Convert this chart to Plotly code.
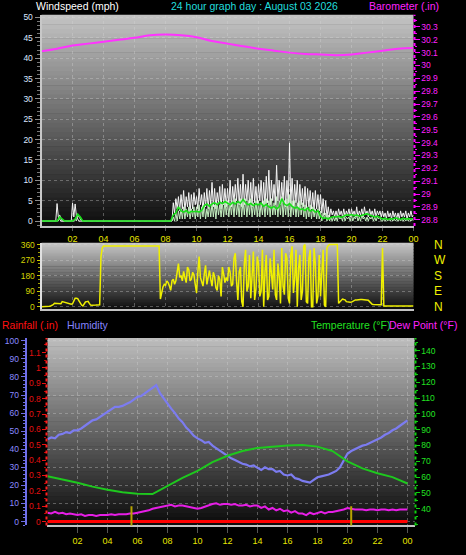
import plotly.graph_objects as go

W, H = 466, 555

# ---------------- data ----------------
hours_5min = [i / 12 for i in range(289)]
hours_10min = [i / 6 for i in range(145)]
hours_15min = [i / 4 for i in range(97)]
hours_1h = list(range(25))

wind_gust = [
    0, 0, 0, 0, 0, 0, 0, 0, 0, 0, 0, 0,
    4.3, 1, 0.5, 0, 0, 0, 0, 0, 0, 0, 0, 0,
    4.4, 1, 4.2, 1.2, 0.5, 0, 0, 0, 0, 0, 0, 0,
    0, 0, 0, 0, 0, 0, 0, 0, 0, 0, 0, 0,
    0, 0, 0, 0, 0, 0, 0, 0, 0, 0, 0, 0,
    0, 0, 0, 0, 0, 0, 0, 0, 0, 0, 0, 0,
    0, 0, 0, 0, 0, 0, 0, 0, 0, 0, 0, 0,
    0, 0, 0, 0, 0, 0, 0, 0, 0, 0, 0, 0,
    0, 0, 0, 0, 0, 0, 4.5, 2, 5.5, 3, 6, 2.5,
    6.5, 3, 7.5, 2.5, 6, 3.5, 7, 2, 6.5, 3, 7, 4,
    6, 3, 8, 4, 6.5, 2.5, 7, 3.5, 8, 3, 7.5, 4,
    9.5, 3.5, 8, 3, 7, 4.5, 8.5, 3, 9, 4, 8, 3.5,
    8, 4, 10, 3.5, 8.5, 4.5, 9, 5, 10.5, 4, 9, 3.5,
    11.5, 4, 9, 5, 10, 4, 9.5, 3.5, 10.5, 4.5, 8.5, 4,
    9, 5, 10, 4, 9.5, 3.5, 11, 4.5, 12.5, 4, 10, 5,
    9, 4, 13.7, 5, 10, 4, 9.5, 4.5, 11, 3.5, 10, 4,
    19.2, 4, 10.5, 3.5, 9, 4.5, 10, 3, 9, 4, 8, 3.5,
    8.5, 3, 8, 3.5, 7.5, 3, 7, 2.5, 7.5, 3, 6.5, 2.5,
    6.5, 2, 5.5, 1.5, 5, 1, 3.5, 1, 3, 1.5, 2.5, 1,
    2.5, 1, 3, 1.5, 2.5, 1, 3, 1, 2.5, 1.5, 3, 1,
    3, 1.5, 2.5, 1, 3.5, 1, 2.5, 1.5, 3, 1, 3.5, 1.5,
    2.5, 1, 3, 1.5, 2.5, 1, 3, 1, 2.5, 1.5, 2.5, 1,
    2.5, 1, 2, 0.5, 2.5, 1, 2, 0.5, 2.5, 1, 2, 0.5,
    2, 0.5, 2.5, 1, 2, 1, 2.5, 0.5, 2, 1, 2.5, 1,
    1.5,
]

wind_speed = [
    0, 0, 0, 0, 0, 0, 0, 0, 0, 0, 0, 0,
    0, 0, 1.5, 0.5, 0, 0, 0, 0, 0, 0, 0, 0,
    0, 0, 0.5, 0, 1.5, 1, 0.5, 0, 0, 0, 0, 0,
    0, 0, 0, 0, 0, 0, 0, 0, 0, 0, 0, 0,
    0, 0, 0, 0, 0, 0, 0, 0, 0, 0, 0, 0,
    0, 0, 0, 0, 0, 0, 0, 0, 0, 0, 0, 0,
    0, 0, 0, 0, 0, 0, 0, 0, 0, 0, 0, 0,
    0, 0, 0, 0, 0, 0, 0, 0, 0, 0, 0, 0,
    0, 0, 0, 0, 0, 0, 1, 0, 2, 0, 2.5, 0.5,
    3, 0.5, 3.5, 0.5, 3, 1, 3.5, 0.5, 3, 1, 3.5, 0.5,
    3.5, 1, 4, 0.5, 3.5, 1, 4, 0.5, 3, 1, 4, 1,
    4.5, 1, 4, 0.5, 4.5, 1.5, 4, 1, 4.5, 1, 5, 1.5,
    5, 1, 4.5, 1.5, 5, 1, 5.5, 1.5, 4.5, 1, 5.5, 1,
    5, 1.5, 5.5, 1, 5, 1.5, 5.5, 1, 4.5, 1.5, 5, 1,
    5, 1, 4.5, 1.5, 5, 1, 5.5, 1.5, 5, 1, 5.5, 1.5,
    4.5, 1.5, 6, 1, 5, 1.5, 6, 1, 5, 1.5, 5.5, 1,
    6.5, 1, 5, 1.5, 5, 1, 4.5, 1, 5, 1.5, 4.5, 1,
    4, 0.5, 3.5, 1, 4, 0.5, 3.5, 1, 3, 0.5, 3, 0.5,
    2.5, 0, 2, 0.5, 2, 0, 1.5, 0, 1, 0, 1, 0,
    1, 0, 1.5, 0.5, 1, 0, 1.5, 0, 1, 0.5, 1, 0,
    1.5, 0, 1, 0.5, 1.5, 0, 1, 0, 1.5, 0.5, 1, 0,
    1, 0, 1, 0.5, 1, 0, 1, 0, 1, 0.5, 1, 0,
    0, 0.5, 0, 0.5, 0, 0.5, 0, 0.5, 0, 0.5, 0, 0.5,
    0, 0.5, 0, 0.5, 0, 0.5, 0, 0.5, 0, 0.5, 0, 0.5,
    0,
]

wind_avg = [
    0, 0, 0, 0, 0, 0,
    0, 1, 0.5, 0, 0, 0,
    0, 0.5, 1.7, 1, 0, 0,
    0, 0, 0, 0, 0, 0,
    0, 0, 0, 0, 0, 0,
    0, 0, 0, 0, 0, 0,
    0, 0, 0, 0, 0, 0,
    0, 0, 0, 0, 0, 0,
    0, 0, 0, 1.5, 2, 3.5,
    2.5, 2.2, 2.6, 2, 2.4, 2.3,
    2.4, 2.2, 2.6, 3.8, 4.2, 3.6,
    4.2, 4.5, 4, 4.6, 4.3, 4.8,
    4.4, 4, 4.6, 4.2, 4.8, 4.4,
    5.3, 4.5, 4, 4.3, 3.8, 4.2,
    4, 4.4, 3.6, 4.1, 3.5, 3.2,
    3.6, 3, 3.5, 5.5, 4.2, 3.8,
    4.3, 3.6, 3.2, 3.4, 2.8, 3,
    2.6, 3.2, 2.4, 2.8, 2.2, 2.5,
    1.2, 0.6, 0.8, 0.5, 0.9, 1.1,
    1, 1.2, 0.9, 1.3, 1.5, 1.4,
    1.6, 1.3, 1.5, 1.2, 1.4, 1.6,
    1.8, 1.5, 1.3, 1, 1.2, 0.8,
    0.5, 0.7, 0.4, 0.6, 0.5, 0.8,
    0.6, 0.4, 0.7, 0.5, 0.6, 0.5,
    0.6,
]

wind_dir = [
    0, 0, 0, 0, 0, 0, 3, 5, 8, 12, 20, 20,
    20, 19, 18, 18, 30, 28, 22, 20, 18, 16, 15, 15,
    18, 35, 50, 50, 48, 35, 22, 10, 5, 15, 28, 30,
    32, 20, 10, 9, 8, 8, 10, 11, 12, 12, 290, 340,
    352, 352, 352, 352, 352, 352, 352, 352, 352, 352, 352, 352,
    352, 352, 352, 352, 352, 352, 352, 352, 352, 352, 352, 352,
    352, 352, 352, 352, 352, 352, 352, 352, 352, 352, 352, 352,
    352, 352, 352, 352, 352, 352, 352, 352, 45, 90, 115, 130,
    125, 150, 140, 120, 95, 150, 160, 130, 150, 200, 250, 170,
    180, 150, 205, 170, 140, 230, 215, 150, 160, 200, 185, 130,
    80, 200, 290, 170, 150, 120, 190, 240, 130, 170, 210, 160,
    120, 200, 175, 110, 95, 180, 160, 60, 230, 190, 140, 170,
    150, 230, 200, 120, 130, 280, 310, 150, 40, 200, 230, 30,
    0, 250, 330, 90, 120, 300, 50, 180, 320, 40, 100, 290,
    250, 60, 90, 330, 0, 200, 300, 40, 60, 280, 210, 100,
    330, 70, 40, 250, 180, 20, 340, 120, 70, 310, 280, 50,
    20, 300, 350, 80, 160, 330, 0, 220, 300, 40, 90, 350,
    360, 30, 20, 280, 330, 0, 0, 340, 250, 20, 60, 300,
    60, 200, 330, 10, 0, 340, 355, 360, 360, 360, 360, 360,
    360, 360, 20, 30, 40, 45, 42, 40, 30, 28, 25, 26,
    27, 32, 38, 40, 40, 42, 42, 42, 42, 41, 40, 40,
    42, 38, 30, 22, 15, 13, 12, 12, 12, 12, 12, 12,
    340, 5, 5, 5, 5, 5, 5, 5, 5, 5, 5, 5,
    5, 5, 5, 5, 5, 5, 5, 5, 5, 5, 5, 5,
    5,
]

barometer = [30.11, 30.13, 30.155, 30.17, 30.185, 30.20, 30.215, 30.235, 30.24,
             30.235, 30.22, 30.19, 30.17, 30.15, 30.13, 30.115, 30.10, 30.09,
             30.085, 30.08, 30.085, 30.10, 30.115, 30.13, 30.135]

temperature = [60.5, 58.5, 56.5, 54, 52, 50.5, 49.5, 49.3, 54.5, 59.5, 64, 69.5, 73.5,
               76.5, 78.5, 79.3, 80, 80.3, 79.3, 76.5, 70, 65.5, 62.5, 60, 56]

humidity = [
    45.5, 46.5, 46, 48,
    48.5, 49.5, 49, 50.5,
    50.5, 51.5, 53, 54.5,
    56, 56.5, 58, 59.5,
    61, 62, 63.5, 63.5,
    64, 65, 66, 67.5,
    69, 69.5, 71, 72,
    73.5, 75.5, 71, 68,
    65, 62.5, 60, 57,
    55, 52, 50, 47.5,
    46, 45, 43.5, 44,
    42, 40.5, 39, 37.5,
    36.5, 35, 34, 33,
    32, 31.5, 30.5, 31,
    29.5, 28.5, 30, 29,
    29, 27.5, 28, 26,
    25.5, 26, 24, 23.5,
    22.5, 22, 21.5, 23,
    24.5, 25, 25.5, 26,
    27, 28, 30, 33.5,
    37.5, 39, 40, 41,
    42, 42.5, 43.5, 44.5,
    45.5, 46.5, 48, 49,
    50.5, 51.5, 53, 54.5,
    56,
]

dew_point = [
    37.5, 37, 38, 37,
    37.5, 36.5, 37, 36.5,
    36, 36.5, 35.5, 36,
    36, 35.5, 36, 36,
    36, 36.5, 36, 36.5,
    36.5, 36.5, 37, 37,
    37.5, 38, 38.5, 39,
    40, 40.5, 41, 41.5,
    42, 42.5, 41.5, 42,
    42, 41.5, 41, 40.5,
    40, 40.5, 41.5, 42,
    43, 43.5, 42.5, 43,
    43, 42.5, 43, 42,
    42, 42.5, 41.5, 42,
    42, 40.5, 41.5, 39.5,
    40.5, 39, 40, 38.5,
    39, 37.5, 38.5, 37,
    37, 36, 37.5, 36.5,
    37.5, 38, 37, 38,
    38, 38.5, 39, 39.5,
    40.5, 40, 39.5, 39.5,
    39.5, 39, 39.5, 39.5,
    39, 39.5, 39.5, 39,
    39.5, 39, 39.5, 39.5,
    39.5,
]

rainfall = [0, 0, 0, 0, 0, 0, 0, 0, 0, 0, 0, 0, 0, 0, 0, 0, 0, 0, 0, 0, 0, 0, 0, 0, 0]

sun_events = [5.6, 20.25]

hour_ticks = [2, 4, 6, 8, 10, 12, 14, 16, 18, 20, 22, 24]
hour_labels = ["02", "04", "06", "08", "10", "12", "14", "16", "18", "20", "22", "00"]
wind_ticks = [0, 5, 10, 15, 20, 25, 30, 35, 40, 45, 50]
baro_ticks = [28.8, 28.9, 29.0, 29.1, 29.2, 29.3, 29.4, 29.5, 29.6, 29.7, 29.8, 29.9,
              30.0, 30.1, 30.2, 30.3]
baro_labels = ["28.8", "28.9", "29", "29.1", "29.2", "29.3", "29.4", "29.5", "29.6",
               "29.7", "29.8", "29.9", "30", "30.1", "30.2", "30.3"]
dir_ticks = [0, 90, 180, 270, 360]
compass_labels = ["N", "E", "S", "W", "N"]
hum_ticks = [0, 10, 20, 30, 40, 50, 60, 70, 80, 90, 100]
rain_ticks = [0, 0.1, 0.2, 0.3, 0.4, 0.5, 0.6, 0.7, 0.8, 0.9, 1.0, 1.1]
rain_labels = ["0", "0.1", "0.2", "0.3", "0.4", "0.5", "0.6", "0.7", "0.8", "0.9", "1", "1.1"]
temp_ticks = [40, 50, 60, 70, 80, 90, 100, 110, 120, 130, 140]

# ---------------- helpers ----------------
def fx(px):
    return px / W


def fy(py):
    return 1 - py / H


FONT = "Liberation Sans, Arial, sans-serif"
GRID = "rgba(215,215,215,0.35)"

TOP = (42, 418, 10, 225)
MID = (42, 418, 242, 310)
BOT = (48, 419, 339, 530)

fig = go.Figure()

# ---- top panel traces ----
fig.add_trace(go.Scatter(x=hours_5min, y=wind_gust, mode="lines",
                         line=dict(color="#f4f4f4", width=1), xaxis="x", yaxis="y"))
fig.add_trace(go.Scatter(x=hours_5min, y=wind_speed, mode="lines",
                         line=dict(color="#c4eec0", width=1), xaxis="x", yaxis="y"))
fig.add_trace(go.Scatter(x=hours_10min, y=wind_avg, mode="lines",
                         line=dict(color="#18e018", width=1.6), xaxis="x", yaxis="y"))
fig.add_trace(go.Scatter(x=hours_1h, y=barometer, mode="lines", line_shape="spline",
                         line=dict(color="#ff33ff", width=2), xaxis="x", yaxis="y2"))

# ---- middle panel traces ----
fig.add_trace(go.Scatter(x=hours_5min, y=wind_dir, mode="lines",
                         line=dict(color="#f0f000", width=1.5), xaxis="x2", yaxis="y3"))
fig.add_trace(go.Scatter(x=hours_5min, y=wind_dir, mode="lines", hoverinfo="skip",
                         line=dict(color="rgba(0,0,0,0)", width=0), xaxis="x2", yaxis="y4"))

# ---- bottom panel traces ----
fig.add_trace(go.Scatter(x=hours_1h, y=rainfall, mode="lines",
                         line=dict(color="#ff0000", width=3), xaxis="x3", yaxis="y5"))
fig.add_trace(go.Scatter(x=hours_15min, y=humidity, mode="lines",
                         line=dict(color="#7c7cf0", width=2.2), xaxis="x3", yaxis="y6"))
fig.add_trace(go.Scatter(x=hours_1h, y=temperature, mode="lines",
                         line=dict(color="#1ec81e", width=2), xaxis="x3", yaxis="y7"))
fig.add_trace(go.Scatter(x=hours_15min, y=dew_point, mode="lines",
                         line=dict(color="#e61ee6", width=2), xaxis="x3", yaxis="y7"))

shapes = []


def gradient(box, top_v, bot_v, n=45):
    x0, x1, y0, y1 = box
    step = (y1 - y0) / n
    for i in range(n):
        v = int(round(top_v + (bot_v - top_v) * (i + 0.5) / n))
        shapes.append(dict(type="rect", xref="paper", yref="paper", layer="below",
                           x0=fx(x0), x1=fx(x1), y0=fy(y0 + step * (i + 1) + 0.5),
                           y1=fy(y0 + step * i), line=dict(width=0),
                           fillcolor=f"rgb({v},{v},{v})"))


gradient(TOP, 196, 12)
gradient(MID, 200, 12)
gradient(BOT, 190, 10)

# sunrise / sunset markers
for t in sun_events:
    shapes.append(dict(type="line", xref="x3", yref="y5", x0=t, x1=t, y0=-0.03, y1=0.1,
                       line=dict(color="#b8a400", width=2)))

# dotted side lines
shapes.append(dict(type="line", xref="paper", yref="paper", x0=fx(419), x1=fx(419),
                   y0=fy(225), y1=fy(10), line=dict(color="#ff00ff", width=2, dash="dot")))
shapes.append(dict(type="line", xref="paper", yref="paper", x0=fx(47), x1=fx(47),
                   y0=fy(530), y1=fy(339), line=dict(color="#ff2020", width=2, dash="dot")))
shapes.append(dict(type="line", xref="paper", yref="paper", x0=fx(420), x1=fx(420),
                   y0=fy(530), y1=fy(339), line=dict(color="#10d010", width=2, dash="dot")))

annotations = []


def title(text, x, y, color):
    annotations.append(dict(text=text, x=fx(x), y=fy(y), xref="paper", yref="paper",
                            xanchor="left", yanchor="middle", showarrow=False,
                            font=dict(family=FONT, size=10.5, color=color)))


title("Windspeed (mph)", 34, 1, "#ffffff")
title("24 hour graph day : August 03 2026", 171, 1, "#22dddd")
title("Barometer (.in)", 371, 1, "#ff22ff")
title("Rainfall (.in)", 0, 326, "#ff1010")
title("Humidity", 66, 326, "#8484ff")
title("Temperature (°F)", 312, 326, "#22e022")
title("Dew Point (°F)", 391, 326, "#ff22ff")

tickfont_small = dict(family=FONT, size=8.5)
xtick_font = dict(family=FONT, size=9, color="#e6e600")

x_common = dict(tickvals=hour_ticks, ticktext=hour_labels, showgrid=True, gridcolor=GRID,
                griddash="dot", gridwidth=1, zeroline=False, showline=True,
                linecolor="#c4c4c4", linewidth=2, ticks="outside", tickcolor="#555",
                ticklen=3, tickfont=xtick_font, fixedrange=True)

fig.update_layout(
    width=W, height=H,
    margin=dict(l=0, r=0, t=0, b=0),
    paper_bgcolor="#000000",
    plot_bgcolor="rgba(0,0,0,0)",
    showlegend=False,
    font=dict(family=FONT),
    shapes=shapes,
    annotations=annotations,
    xaxis=dict(domain=[fx(TOP[0]), fx(TOP[1])], range=[0, 24], anchor="y", **x_common),
    yaxis=dict(domain=[fy(TOP[3]), fy(TOP[2])], range=[-1.2, 50.65], anchor="x",
               tickvals=wind_ticks, showgrid=True, gridcolor=GRID, griddash="dot",
               zeroline=False, showline=True, linecolor="#c8c8c8", linewidth=2,
               ticks="outside", ticklen=5, tickcolor="#8a8a8a",
               tickfont=dict(tickfont_small, color="#dce6ff"),
               minor=dict(dtick=1, ticks="outside", ticklen=3, tickcolor="#777")),
    yaxis2=dict(overlaying="y", side="right", anchor="x", range=[28.752, 30.394],
                tickvals=baro_ticks, ticktext=baro_labels, showgrid=False, zeroline=False,
                ticks="outside", ticklen=5, tickcolor="#ff00ff",
                tickfont=dict(tickfont_small, color="#ff22ff"),
                minor=dict(dtick=0.05, ticks="outside", ticklen=2, tickcolor="#ff00ff")),
    xaxis2=dict(domain=[fx(MID[0]), fx(MID[1])], range=[0, 24], anchor="y3",
                tickvals=hour_ticks, showticklabels=False, showgrid=True, gridcolor=GRID,
                griddash="dot", zeroline=False, showline=True, linecolor="#c4c4c4",
                linewidth=2, fixedrange=True),
    yaxis3=dict(domain=[fy(MID[3]), fy(MID[2])], range=[-15, 371], anchor="x2",
                tickvals=dir_ticks, showgrid=True, gridcolor=GRID, griddash="dot",
                zeroline=False, showline=True, linecolor="#e0e0e0", linewidth=2,
                ticks="outside", ticklen=3, tickcolor="#c8c800",
                tickfont=dict(tickfont_small, color="#d4d400"),
                minor=dict(dtick=22.5, ticks="outside", ticklen=2, tickcolor="#a0a000")),
    yaxis4=dict(overlaying="y3", side="right", anchor="x2", range=[-15, 371],
                tickvals=dir_ticks, ticktext=compass_labels, showgrid=False,
                zeroline=False, ticks="outside", ticklen=17, tickcolor="rgba(0,0,0,0)",
                tickfont=dict(family=FONT, size=12, color="#f0f000")),
    xaxis3=dict(domain=[fx(BOT[0]), fx(BOT[1])], range=[0, 24.47], anchor="y5",
                **dict(x_common, ticklen=6)),
    yaxis5=dict(domain=[fy(BOT[3]), fy(BOT[2])], range=[-0.0256, 1.196], anchor="x3",
                tickvals=rain_ticks, ticktext=rain_labels, showgrid=False, zeroline=False,
                showline=False, ticks="outside", ticklen=4, tickcolor="#ee1010",
                tickfont=dict(tickfont_small, color="#e01010"),
                minor=dict(dtick=0.05, ticks="outside", ticklen=2, tickcolor="#c00000")),
    yaxis6=dict(overlaying="y5", side="left", anchor="free", position=fx(26),
                range=[-2.17, 101.63], tickvals=hum_ticks, showgrid=True, gridcolor=GRID,
                griddash="dot", zeroline=False, showline=True, linecolor="#6f6fe8",
                linewidth=2, ticks="outside", ticklen=4, tickcolor="#6f6fe8",
                tickfont=dict(tickfont_small, color="#8a8aff"),
                minor=dict(dtick=2, ticks="outside", ticklen=2, tickcolor="#6f6fe8")),
    yaxis7=dict(overlaying="y5", side="right", anchor="x3", range=[29.44, 148.07],
                tickvals=temp_ticks, showgrid=False, zeroline=False,
                ticks="outside", ticklen=4, tickcolor="#10d010",
                tickfont=dict(tickfont_small, color="#22e022"),
                minor=dict(dtick=5, ticks="outside", ticklen=2, tickcolor="#10d010")),
)

fig.write_html(
    "out.html",
    config={"displayModeBar": False},
    post_script="document.body.style.margin='0';document.documentElement.style.overflow='hidden';",
)
